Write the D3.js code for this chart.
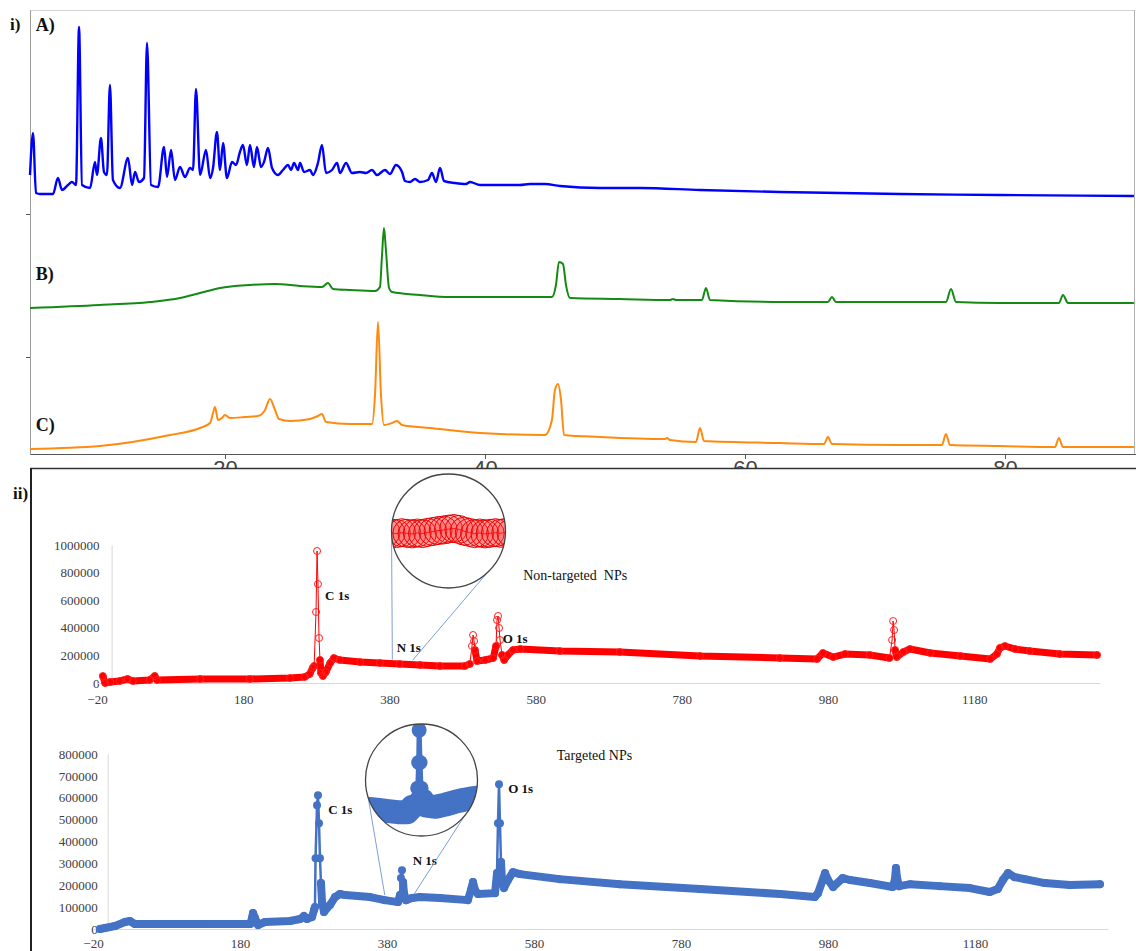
<!DOCTYPE html>
<html>
<head>
<meta charset="utf-8">
<script src="https://cdn.jsdelivr.net/npm/d3@7"></script>
<style>
  body { margin: 0; background: #fff; }
  svg { display: block; }
</style>
</head>
<body>
<div id="graph"></div>
<script>
var width = 1136,
    height = 951

// ---------- panel i : XRD patterns, [2theta, stacked intensity (a.u.)]
var xrdA = [[5.00,279],[5.23,321],[5.46,261],[5.77,260],[6.77,260],[7.15,276],[7.46,264],[7.92,269],[8.23,272],
  [8.54,269],[8.77,427],[9.00,269],[9.62,266],[10.0,292],[10.15,279],[10.46,316],[10.69,282],[10.92,279],[11.15,369],
  [11.38,274],[11.92,266],[12.54,296],[12.85,269],[13.08,282],[13.38,272],[13.77,276],[14.0,411],[14.31,269],[14.85,267],
  [15.31,307],[15.54,277],[15.85,304],[16.15,274],[16.54,287],[16.92,277],[17.31,286],[17.54,284],[17.77,365],[18.08,279],
  [18.54,304],[18.85,276],[19.08,286],[19.38,322],[19.62,284],[19.85,311],[20.15,276],[20.54,292],[20.85,289],[21.15,302],
  [21.38,309],[21.69,289],[21.92,309],[22.23,287],[22.46,307],[22.77,287],[23.0,292],[23.31,306],[23.62,286],[24.08,279],
  [24.46,284],[24.85,289],[25.08,284],[25.31,291],[25.62,284],[25.77,291],[26.08,282],[26.54,284],[26.77,279],[27.15,291],
  [27.46,309],[27.77,281],[28.23,284],[28.62,291],[28.85,281],[29.31,291],[29.77,281],[30.38,282],[30.85,281],[31.31,284],
  [31.69,279],[32.31,284],[32.69,280],[33.15,289],[33.62,282],[33.85,273],[34.23,272],[34.62,275],[35.0,272],[35.62,274],
  [35.92,281],[36.23,272],[36.54,286],[36.85,273],[37.69,271],[38.54,270],[38.85,272],[39.62,269],[41.15,269],[42.69,269],
  [43.46,270],[44.62,270],[45.77,268],[48.85,266],[51.92,266],[56.54,264],[62.69,262],[71.92,260],[79.62,259],[89.92,258]]
var xrdB = [[5.0,146],[10.38,149],[14.23,152],[16.54,156],[18.08,161],[19.62,166],[21.92,169],[23.85,170],[25.77,168],
  [27.46,167],[27.92,171],[28.31,165],[29.62,164],[31.54,163],[31.92,167],[32.08,199],[32.23,226],[32.38,204],[32.62,166],
  [32.85,162],[35.0,159],[37.31,157],[41.15,157],[45.15,157],[45.46,169],[45.69,192],[46.0,190],[46.23,169],[46.54,156],
  [50.38,155],[54.23,154],[54.46,155],[54.69,154],[56.69,154],[57.0,166],[57.31,154],[63.0,152],[66.38,152],[66.69,157],
  [67.0,152],[71.92,152],[75.46,152],[75.85,165],[76.23,152],[79.62,151],[84.15,151],[84.46,159],[84.85,151],[89.92,151]]
var xrdC = [[5.0,5],[10.38,8],[15.77,19],[18.08,26],[18.85,31],[19.08,41],[19.23,47],[19.46,34],[19.77,36],[20.0,39],
  [20.38,36],[21.54,37],[22.54,38],[23.08,44],[23.46,55],[23.85,44],[24.15,35],[25.0,33],[26.54,35],[27.15,38],[27.46,40],
  [27.77,32],[29.62,30],[31.31,30],[31.54,59],[31.77,132],[32.0,59],[32.23,29],[32.85,31],[33.23,33],[33.62,29],[35.77,26],
  [39.62,21],[44.62,19],[45.15,34],[45.38,64],[45.62,70],[45.85,54],[46.08,19],[48.85,17],[53.85,15],[54.0,16],[54.23,14],
  [56.23,12],[56.54,26],[56.85,13],[62.69,11],[66.08,10],[66.38,17],[66.69,10],[71.92,9],[75.15,9],[75.46,20],[75.77,9],
  [79.62,8],[83.85,7],[84.15,16],[84.46,7],[89.92,7]]
var xrdColors = ['#0000ff', '#138a13', '#ff8a10']
var xrdNames = ['A)', 'B)', 'C)']
var xrdNameLevel = [423, 174, 23]
var xrdTicks = [20, 40, 60, 80]
var xrdSideTicks = [97, 240]

// ---------- panel ii : XPS survey, [binding energy (eV), counts]
var xpsNonTargeted = [[-12,50700],[-9,0],[-2,7000],[11,14500],[22,29000],[29,14500],[52,21700],[59,50700],[62,21700],
  [121,29000],[189,29000],[244,36200],[264,43500],[271,65000],[275,108700],[277,123000],[279.6,514500],[281,956500],
  [282.3,717000],[283.7,326000],[285,166700],[286.4,72500],[289,50700],[293,79700],[299,145000],[304,181000],[312,166700],
  [340,152000],[367,145000],[394,137700],[422,130400],[449,123200],[483,123200],[490,137700],[493,268000],[494.4,347800],
  [495.8,304000],[497,239000],[500,159000],[511,166700],[522,181000],[525.8,268000],[527.2,456500],[528.6,485500],
  [530,398500],[531.3,311500],[534,203000],[537,166700],[542,203000],[549,239000],[559,246000],[613,232000],[695,224600],
  [805,195600],[914,181000],[965,174000],[973,217400],[987,188000],[1003,210000],[1037,203000],[1064,181000],
  [1067.6,311500],[1069,449000],[1070.3,384000],[1071.7,239000],[1074,188000],[1083,224600],[1092,246000],[1120,217400],
  [1161,195600],[1202,174000],[1211,210000],[1215,253600],[1222,268000],[1236,246000],[1256,232000],[1297,210000],[1348,203000]]
var xpsTargeted = [[-10.5,0],[-3.7,4600],[10,13700],[23.5,32000],[30,36500],[37,22800],[71,22800],[126,22800],[194,22800],
  [196.3,50200],[197.7,73000],[200.4,50200],[204.5,18300],[214,32000],[248,36500],[262,45700],[267,59400],[271,45700],
  [278,54800],[280.7,86800],[282,100500],[282.8,324000],[284.8,566000],[286.1,612000],[287.5,484000],[288.8,324000],
  [290.2,210000],[291.6,123000],[294.3,77600],[302.4,109600],[309.3,146000],[316,160000],[323,155000],[357,146000],
  [377,132000],[395,123000],[397.7,155000],[399,233000],[400.4,269000],[401.8,215000],[403.1,164000],[405.9,132000],
  [414,141500],[425,146000],[452,141500],[490,132000],[494.3,178000],[497,215000],[499.7,178000],[503.8,160000],[527,164000],
  [529.7,255700],[531,484000],[532.4,662000],[533.7,484000],[535.1,306000],[536.5,224000],[539.2,187000],[544.6,224000],
  [551.4,260000],[561,251000],[615,228000],[697,205000],[806,182600],[915,160000],[962,146000],[966.5,164000],[976,255700],
  [980,224000],[987,192000],[1000,233000],[1010,224000],[1037,210000],[1068,192000],[1071,224000],[1072.5,278500],
  [1074,233000],[1076.6,196000],[1092,205000],[1132,196000],[1173,187000],[1200,169000],[1211,182600],[1218,224000],
  [1225,255700],[1234,237000],[1248,228000],[1275,210000],[1309,201000],[1350,205000]]
// magnified N 1s windows shown in the round insets
var insetNonTargeted = [[389,134200],[390,134000],[391,133800],[392,134100],[393,133900],[394,133700],[395,134000],
  [396,133800],[397,134200],[398,134500],[399,134800],[400,135000],[401,135300],[402,135500],[403,135200],[404,134600],
  [405,134200],[406,133800],[407,134000],[408,133700],[409,133900],[410,134100],[411,133900],[412,134200],[413,134000]]
var insetTargeted = [[386,137800],[388,137900],[390,137800],[392,137400],[394,137000],[396,136600],[398,136600],
  [399,138500],[400,141500],[400.2,145500],[400.4,155000],[400.5,167000],[400.7,155000],[400.9,145500],[401.2,141000],
  [402,139000],[404,138600],[406,139400],[408,140400],[410,141200],[412,141800],[414,142200],[416,142500]]
var xpsTicks = [-20, 180, 380, 580, 780, 980, 1180]
var countTicksNT = [0, 200000, 400000, 600000, 800000, 1000000]
var countTicksT = [0, 100000, 200000, 300000, 400000, 500000, 600000, 700000, 800000]
var peakNames = ['C 1s', 'N 1s', 'O 1s']
var peakAnchorNT = [[292, 637600], [390, 260900], [535, 326000]]
var peakAnchorT = [[300, 548000], [415, 315000], [545, 643800]]

var serif = '"Liberation Serif", "Times New Roman", serif'
var sans = '"Liberation Sans", Arial, sans-serif'

var svg = d3.select('#graph')
  .append('svg')
  .attr('width', width)
  .attr('height', height)
  .style('font-family', serif)

// ================= panel i
var xI = d3.scaleLinear().domain([5, 90.08]).range([30, 1136])
var yI = d3.scaleLinear().domain([0, 444]).range([454, 10])

svg.append('line').attr('x1', 30).attr('x2', 1134).attr('y1', 10.5).attr('y2', 10.5)
  .attr('stroke', '#d4d4d4')
svg.append('line').attr('x1', 1134.5).attr('x2', 1134.5).attr('y1', 10).attr('y2', 454)
  .attr('stroke', '#b0b0b0')

var axI = svg.append('g').attr('transform', 'translate(30,0)')
  .call(d3.axisLeft(yI).tickValues(xrdSideTicks).tickSize(4).tickSizeOuter(0).tickFormat(''))
axI.select('.domain').attr('stroke', '#9a9a9a')
axI.selectAll('.tick line').attr('stroke', '#555')

var bxI = svg.append('g').attr('transform', 'translate(0,454)')
  .call(d3.axisBottom(xI).tickValues(xrdTicks).tickSize(5).tickSizeOuter(0).tickPadding(1.5))
bxI.select('.domain').attr('stroke', '#555')
bxI.selectAll('.tick line').attr('stroke', '#555')
bxI.selectAll('text').attr('font-family', sans).attr('font-size', 22).attr('fill', '#444')

var xrdLine = d3.line()
  .curve(d3.curveMonotoneX)
  .x(function(d){ return xI(d[0]) })
  .y(function(d){ return yI(d[1]) })
;[xrdA, xrdB, xrdC].forEach(function(s, i){
  svg.append('path').attr('d', xrdLine(s))
    .attr('fill', 'none')
    .attr('stroke', xrdColors[i])
    .attr('stroke-width', i == 0 ? 2.4 : 2)
    .attr('stroke-linejoin', 'round')
})

svg.append('text').attr('x', 10).attr('y', 30).text('i)')
  .attr('font-weight', 'bold').attr('font-size', 17).attr('fill', '#111')
xrdNames.forEach(function(n, i){
  svg.append('text').attr('x', xI(5.45)).attr('y', yI(xrdNameLevel[i])).text(n)
    .attr('font-weight', 'bold').attr('font-size', 18).attr('fill', '#111')
})

// ================= panel ii
svg.append('rect').attr('x', 30).attr('y', 468).attr('width', 1106).attr('height', 483).attr('fill', '#fff')
svg.append('line').attr('x1', 30).attr('x2', 1136).attr('y1', 468.5).attr('y2', 468.5)
  .attr('stroke', '#333').attr('stroke-width', 1.5)
svg.append('line').attr('x1', 31).attr('x2', 31).attr('y1', 468).attr('y2', 951)
  .attr('stroke', '#222').attr('stroke-width', 2)
svg.append('text').attr('x', 13).attr('y', 499).text('ii)')
  .attr('font-weight', 'bold').attr('font-size', 17).attr('fill', '#111')

// dense series: thick band where the markers pile up on the baseline,
// thin line + single markers where they stand above it (peak tops)
function drawSeries(g, data, x, y, o) {
  var pts = data.map(function(d){ return [x(d[0]), y(d[1])] })
  var sparse = pts.map(function(p, i){
    var win = pts.slice(Math.max(0, i - 5), i + 6).map(function(q){ return q[1] }).sort(d3.ascending)
    return d3.quantileSorted(win, 0.75) - p[1] > o.gap
  })
  if (o.band) {
    var band = d3.line().defined(function(p, i){ return !sparse[i] })
    g.append('path').attr('d', band(pts))
      .attr('fill', 'none').attr('stroke', o.color).attr('stroke-width', o.band)
      .attr('stroke-linejoin', 'round').attr('stroke-linecap', 'round')
  }
  g.append('path').attr('d', d3.line()(pts))
    .attr('fill', 'none').attr('stroke', o.color).attr('stroke-width', o.line)
    .attr('stroke-linejoin', 'round')
  g.selectAll('circle.m').data(pts).join('circle')
    .attr('class', 'm')
    .attr('cx', function(p){ return p[0] })
    .attr('cy', function(p){ return p[1] })
    .attr('r', o.r)
    .attr('fill', o.fill)
    .attr('stroke', o.stroke)
    .attr('stroke-width', o.sw || 1)
}

function drawAxes(x, y, ticksY, padY, padX) {
  var ly = svg.append('g').attr('transform', 'translate(' + x(0) + ',0)')
    .call(d3.axisLeft(y).tickValues(ticksY).tickSize(0).tickSizeOuter(0).tickPadding(padY).tickFormat(d3.format('d')))
  var lx = svg.append('g').attr('transform', 'translate(0,' + y(0) + ')')
    .call(d3.axisBottom(x).tickValues(xpsTicks).tickSize(0).tickSizeOuter(0).tickPadding(padX).tickFormat(d3.format('d')))
  ;[ly, lx].forEach(function(a){
    a.select('.domain').attr('stroke', '#d9d9d9')
    a.selectAll('text').attr('font-family', serif).attr('font-size', 13).attr('fill', '#404040')
  })
}

function label(x, y, pos, txt, bold, size) {
  svg.append('text').attr('x', x(pos[0])).attr('y', y(pos[1])).attr('dy', '0.35em')
    .text(txt)
    .style('white-space', 'pre')
    .attr('font-weight', bold ? 'bold' : 'normal')
    .attr('font-size', size).attr('fill', '#111')
}

function lens(id, cx, cy, r, angles, targets, drawInside) {
  var clip = svg.append('clipPath').attr('id', id)
  clip.append('circle').attr('cx', cx).attr('cy', cy).attr('r', r)
  angles.forEach(function(a, i){
    var t = a * Math.PI / 180
    svg.append('line')
      .attr('x1', cx + r * Math.cos(t)).attr('y1', cy + r * Math.sin(t))
      .attr('x2', targets[i][0]).attr('y2', targets[i][1])
      .attr('stroke', '#7f9fd8').attr('stroke-width', 1)
  })
  svg.append('circle').attr('cx', cx).attr('cy', cy).attr('r', r).attr('fill', '#fff')
  var g = svg.append('g').attr('clip-path', 'url(#' + id + ')')
  drawInside(g)
  svg.append('circle').attr('cx', cx).attr('cy', cy).attr('r', r)
    .attr('fill', 'none').attr('stroke', '#444').attr('stroke-width', 1.3)
}

// ---- non-targeted (red)
var xNT = d3.scaleLinear().domain([-20, 1352]).range([97, 1100])
var yNT = d3.scaleLinear().domain([0, 1000000]).range([683, 545])
drawAxes(xNT, yNT, countTicksNT, 12, 12)
drawSeries(svg.append('g'), xpsNonTargeted, xNT, yNT,
  {color: '#ff0000', band: 7, line: 1, r: 3.5, fill: 'none', stroke: '#ff2020', gap: 14})
peakNames.forEach(function(n, i){ label(xNT, yNT, peakAnchorNT[i], n, true, 13) })
label(xNT, yNT, [563, 782600], 'Non-targeted  NPs', false, 14)

var ixNT = d3.scaleLinear().domain([389, 413]).range([386, 511])
var iyNT = d3.scaleLinear().domain([125000, 145000]).range([560, 500])
lens('lensNT', 448.5, 531, 57, [178, 33],
  [[xNT(384), yNT(170000)], [xNT(412), yNT(166000)]],
  function(g){
    drawSeries(g, insetNonTargeted, ixNT, iyNT,
      {color: '#ff0000', band: 0, line: 1, r: 14, fill: 'rgba(255,40,40,0.16)', stroke: '#e80000', gap: 100})
  })

// ---- targeted (blue)
var xT = d3.scaleLinear().domain([-20, 1361]).range([93, 1108])
var yT = d3.scaleLinear().domain([0, 800000]).range([929, 754])
drawAxes(xT, yT, countTicksT, 10, 10)
drawSeries(svg.append('g'), xpsTargeted, xT, yT,
  {color: '#4472c4', band: 8, line: 2.5, r: 4, fill: '#4472c4', stroke: 'none', gap: 20})
peakNames.forEach(function(n, i){ label(xT, yT, peakAnchorT[i], n, true, 13) })
label(xT, yT, [611, 794500], 'Targeted NPs', false, 14)

var ixT = d3.scaleLinear().domain([388, 414]).range([360, 483])
var iyT = d3.scaleLinear().domain([130000, 170000]).range([830, 722])
lens('lensT', 421.5, 780, 56, [178, 26],
  [[xT(377), yT(155000)], [xT(417), yT(160000)]],
  function(g){
    drawSeries(g, insetTargeted, ixT, iyT,
      {color: '#4472c4', band: 24, line: 5, r: 7.5, fill: '#4472c4', stroke: 'none', gap: 10})
  })
</script>
</body>
</html>
